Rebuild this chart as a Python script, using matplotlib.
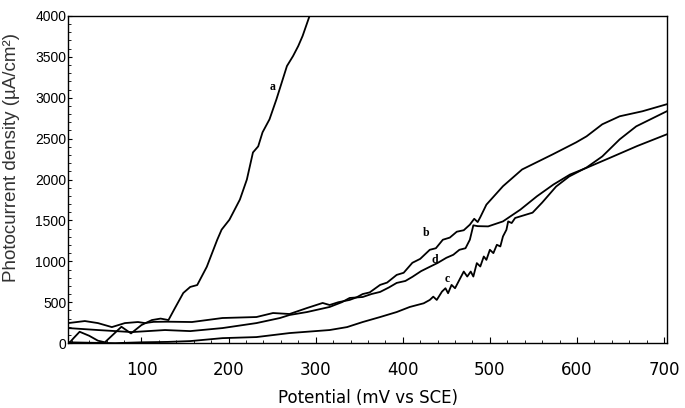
import matplotlib.pyplot as plt
from matplotlib.ticker import MultipleLocator

# === Dados (mV vs SCE, µA/cm²) ===
a_x = [17, 22, 29, 40, 50, 58, 68, 77, 88, 100, 112, 122, 131, 138, 148, 156, 164,
       175, 187, 192, 201, 213, 221, 228, 234, 239, 247, 255, 267, 274, 280, 285, 293]
a_y = [0, 60, 139, 90, 30, 10, 110, 200, 119, 221, 282, 300, 282, 420, 613, 687, 710,
       933, 1264, 1387, 1509, 1755, 2000, 2331, 2405, 2577, 2736, 2982, 3387, 3509, 3632, 3755, 4000]

b_x = [16, 35, 50, 66, 81, 96, 104, 114, 130, 158, 193, 232, 251, 270, 290, 308, 316,
       326, 339, 347, 354, 362, 374, 382, 393, 401, 411, 420, 431, 438, 446, 454, 462,
       470, 477, 482, 486, 489, 496, 515, 537, 572, 599, 611, 629, 649, 675, 703]
b_y = [245, 270, 245, 196, 245, 258, 245, 260, 262, 258, 307, 319, 368, 356, 429, 491, 466,
       500, 528, 560, 600, 620, 712, 740, 834, 860, 982, 1030, 1141, 1160, 1264, 1290, 1362,
       1380, 1448, 1520, 1480, 1540, 1693, 1918, 2123, 2307, 2454, 2528, 2675, 2773, 2834, 2920]

c_x = [16, 40, 70, 100, 130, 156, 193, 232, 270, 316, 336, 354, 374, 393, 408, 424, 431,
       435, 439, 445, 449, 452, 456, 460, 466, 470, 474, 478, 481, 485, 489, 493, 496,
       500, 504, 508, 512, 515, 519, 521, 525, 529, 549, 560, 576, 591, 611, 629, 649, 668, 703]
c_y = [10, 5, 0, 10, 15, 25, 61, 74, 123, 160, 196, 258, 319, 380, 442, 487, 528,
       568, 528, 630, 671, 610, 712, 671, 794, 875, 814, 875, 814, 978, 937, 1059, 1018,
       1141, 1100, 1202, 1182, 1304, 1386, 1488, 1468, 1530, 1595, 1718, 1914, 2037, 2147,
       2282, 2491, 2650, 2834]

d_x = [16, 50, 89, 127, 156, 193, 232, 259, 270, 290, 316, 330, 339, 354, 364, 374, 384,
       393, 403, 411, 421, 431, 440, 450, 458, 465, 472, 477, 481, 486, 498, 515, 535, 554,
       573, 592, 611, 638, 669, 703]
d_y = [184, 160, 135, 160, 147, 184, 245, 307, 344, 380, 442, 500, 552, 564, 600, 626, 680,
       736, 760, 810, 880, 933, 980, 1043, 1080, 1141, 1160, 1264, 1440, 1430, 1427, 1488,
       1632, 1795, 1939, 2061, 2143, 2266, 2409, 2552]

curve_labels = ["a", "b", "d", "c"]
label_x = [250, 427, 437, 451]
label_y = [3130, 1350, 1020, 780]

# === Figura ===
plt.rcParams['font.family'] = ['Liberation Sans', 'DejaVu Sans']
fig = plt.figure(figsize=(6.85, 4.08), dpi=100)
ax = fig.add_axes([0.0997, 0.159, 0.8736, 0.802])

for xs, ys in [(a_x, a_y), (b_x, b_y), (c_x, c_y), (d_x, d_y)]:
    ax.plot(xs, ys, color='black', linewidth=1.3, solid_joinstyle='round')

for lab, lx, ly in zip(curve_labels, label_x, label_y):
    ax.text(lx, ly, lab, fontsize=8.5, fontweight='bold', family='Liberation Serif',
            ha='center', va='center')

ax.set_xlim(16, 703)
ax.set_ylim(0, 4000)
ax.set_xticks([100, 200, 300, 400, 500, 600, 700])
ax.set_yticks(range(0, 4001, 500))
ax.xaxis.set_minor_locator(MultipleLocator(20))
ax.yaxis.set_minor_locator(MultipleLocator(100))
ax.tick_params(which='both', direction='in', top=False, right=False)
ax.tick_params(axis='x', which='major', length=4, labelsize=12, pad=13)
ax.tick_params(axis='x', which='minor', length=2)
ax.tick_params(axis='y', which='major', length=3, labelsize=10, pad=1.5)
ax.tick_params(axis='y', which='minor', length=2)
for t in ax.get_xticklabels():
    t.set_family('DejaVu Sans')
for s in ax.spines.values():
    s.set_linewidth(1.0)

ax.set_xlabel("Potential (mV vs SCE)", fontsize=12, family='DejaVu Sans')
ax.xaxis.label.set_va('center')
ax.xaxis.set_label_coords(0.5, -0.168)
ax.set_ylabel("Photocurrent density (µA/cm²)", fontsize=13.5, color='#333333')
ax.yaxis.set_label_coords(-0.08, 0.566)

fig.savefig("out.png", dpi=100)
